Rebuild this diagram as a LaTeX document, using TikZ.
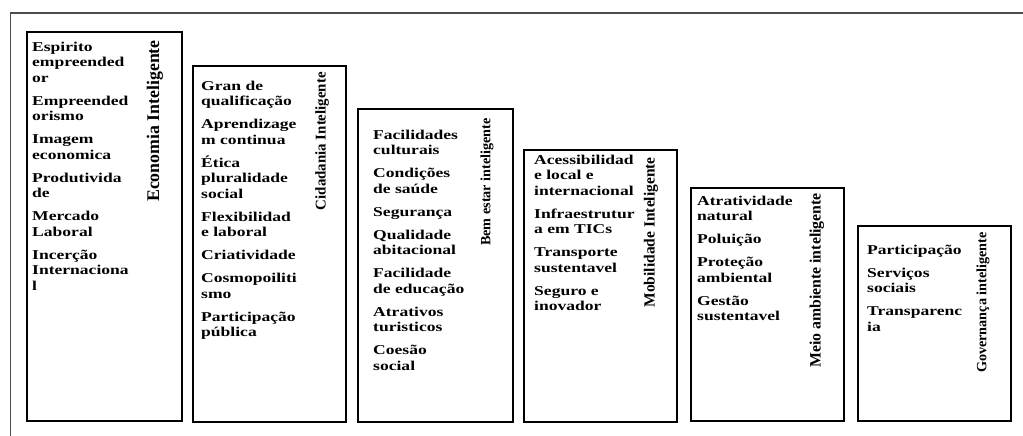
\documentclass[tikz,border=0pt]{standalone}
\usepackage{fontspec}
\setmainfont{Liberation Serif}
\newfontfamily\itemfont[FakeStretch=1.3]{Liberation Serif}
\tikzset{
  frameline/.style={draw=black!70},
  boxframe/.style={draw=black, line width=2.4pt},
  items/.style={anchor=north west, inner sep=0pt, align=left,
    font=\itemfont\bfseries\fontsize{13.5}{15.5}\selectfont},
  vlabel/.style={rotate=90, anchor=east, inner sep=0pt,
    font=\bfseries\fontsize{#1}{#1}\selectfont}
}
\newcommand{\gp}{\\[7.5pt]}
\begin{document}
\begin{tikzpicture}[x=1pt,y=-1pt]
\useasboundingbox (0,0) rectangle (1023,436);
% outer frame
\coordinate (fr) at (1023,13);
\coordinate (fc) at (10,13);
\coordinate (fb) at (10,436);
\draw[frameline, line width=2pt] (fr) -- (fc);
\draw[frameline, line width=1pt] (fc) -- (fb);
% boxes
\draw[boxframe] (27,32) rectangle (182,421);
\draw[boxframe] (193,66) rectangle (346,422);
\draw[boxframe] (358,109) rectangle (513,422);
\draw[boxframe] (524,150) rectangle (677,422);
\draw[boxframe] (691,188) rectangle (844,421);
\draw[boxframe] (858,226) rectangle (1011,421);
% items
\node[items] (t1) at (32,40.2) {\strut Espirito\\empreended\\or\gp Empreended\\orismo\gp Imagem\\economica\gp Produtivida\\de\gp Mercado\\Laboral\gp Incerção\\Internaciona\\l};
\node[items] (t2) at (201,79.2) {\strut Gran de\\qualificação\gp Aprendizage\\m continua\gp Ética\\pluralidade\\social\gp Flexibilidad\\e laboral\gp Criatividade\gp Cosmopoiliti\\smo\gp Participação\\pública};
\node[items] (t3) at (373,128.2) {\strut Facilidades\\culturais\gp Condições\\de saúde\gp Segurança\gp Qualidade\\abitacional\gp Facilidade\\de educação\gp Atrativos\\turisticos\gp Coesão\\social};
\node[items] (t4) at (534,153.2) {\strut Acessibilidad\\e local e\\internacional\gp Infraestrutur\\a em TICs\gp Transporte\\sustentavel\gp Seguro e\\inovador};
\node[items] (t5) at (697,194.2) {\strut Atratividade\\natural\gp Poluição\gp Proteção\\ambiental\gp Gestão\\sustentavel};
\node[items] (t6) at (867,243.2) {\strut Participação\gp Serviços\\sociais\gp Transparenc\\ia};
% vertical labels
\node[vlabel=17.8] (l1) at (155,40) {Economia Inteligente};
\node[vlabel=14.9] (l2) at (322,72) {Cidadania Inteligente};
\node[vlabel=14.2] (l3) at (487,118) {Bem estar inteligente};
\node[vlabel=15.5] (l4) at (651,157) {Mobilidade Inteligente};
\node[vlabel=15.8] (l5) at (817,193) {Meio ambiente inteligente};
\node[vlabel=14.2] (l6) at (983,232) {Governança inteligente};
\end{tikzpicture}
\end{document}
